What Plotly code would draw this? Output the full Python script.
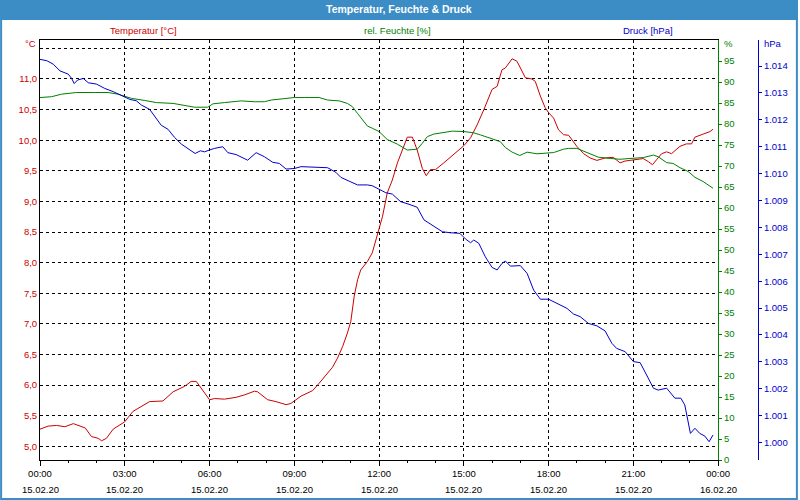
import pandas as pd
import plotly.graph_objects as go

# ---------------- data (hours after 15.02.20 00:00) ----------------
temp_hours = [0, 0.29, 0.59, 0.88, 1.18, 1.47, 1.6, 1.82, 2.06, 2.18, 2.35, 2.59, 3.0, 3.29, 3.59,
              3.88, 4.35, 4.71, 5.12, 5.35, 5.53, 5.76, 6.0, 6.18, 6.53, 6.94, 7.24, 7.59, 7.7,
              8.06, 8.35, 8.71, 8.88, 9.24, 9.65, 9.88, 10.12, 10.35, 10.53, 10.71, 10.88, 11.0,
              11.12, 11.24, 11.35, 11.59, 11.76, 11.88, 12.0, 12.12, 12.29, 12.47, 12.65, 12.82,
              13.0, 13.18, 13.35, 13.53, 13.67, 13.82, 14.0, 14.29, 14.71, 15.0, 15.24, 15.47,
              15.71, 16.0, 16.18, 16.35, 16.47, 16.71, 16.88, 17.18, 17.41, 17.53, 17.71, 17.88,
              18.0, 18.18, 18.35, 18.53, 18.71, 19.0, 19.24, 19.47, 19.71, 20.0, 20.29, 20.53,
              20.71, 21.0, 21.35, 21.53, 21.68, 21.82, 22.0, 22.18, 22.35, 22.65, 22.88, 23.06,
              23.18, 23.47, 23.71, 23.82]
temp_values = [5.28, 5.33, 5.34, 5.32, 5.37, 5.32, 5.30, 5.16, 5.13, 5.09, 5.13, 5.28, 5.40, 5.57,
               5.65, 5.73, 5.74, 5.89, 5.98, 6.06, 6.06, 5.92, 5.76, 5.78, 5.77, 5.80, 5.84, 5.90,
               5.89, 5.76, 5.73, 5.68, 5.70, 5.82, 5.91, 6.03, 6.17, 6.29, 6.44, 6.63, 6.85, 7.04,
               7.45, 7.72, 7.88, 8.02, 8.16, 8.37, 8.55, 8.75, 9.14, 9.35, 9.63, 9.84, 10.05, 10.05,
               9.84, 9.54, 9.42, 9.52, 9.52, 9.63, 9.79, 9.91, 10.04, 10.25, 10.50, 10.83, 10.88,
               11.15, 11.18, 11.33, 11.29, 11.02, 11.00, 10.96, 10.72, 10.53, 10.45, 10.36, 10.17,
               10.09, 10.08, 9.90, 9.78, 9.71, 9.67, 9.71, 9.72, 9.63, 9.66, 9.68, 9.70, 9.65,
               9.60, 9.68, 9.78, 9.81, 9.78, 9.90, 9.94, 9.94, 10.05, 10.10, 10.14, 10.18]

hum_hours = [0, 0.41, 0.76, 1.29, 1.94, 2.41, 2.76, 3.24, 3.71, 4.12, 4.71, 5.12, 5.47, 5.94,
             6.12, 6.53, 7.12, 7.59, 7.94, 8.18, 8.65, 9.0, 9.35, 9.88, 10.18, 10.59, 10.88,
             11.06, 11.24, 11.41, 11.59, 11.76, 12.0, 12.29, 12.65, 13.0, 13.35, 13.53, 13.71,
             13.94, 14.29, 14.59, 15.0, 15.35, 15.59, 15.88, 16.29, 16.47, 16.71, 16.98, 17.24,
             17.59, 17.94, 18.18, 18.53, 18.71, 19.0, 19.35, 19.76, 20.18, 20.53, 20.88, 21.35,
             21.59, 21.71, 21.88, 22.18, 22.41, 22.65, 22.94, 23.18, 23.47, 23.82]
hum_values = [86.3, 86.5, 87.1, 87.5, 87.5, 87.5, 87.1, 86.1, 85.6, 85.1, 84.9, 84.4, 84.0, 84.0,
              84.8, 85.1, 85.5, 85.3, 85.3, 85.7, 86.1, 86.3, 86.3, 86.3, 85.7, 85.5, 84.9,
              84.1, 82.5, 81.0, 79.5, 79.0, 78.2, 76.3, 75.2, 73.8, 74.0, 75.4, 77.0, 77.6, 77.9,
              78.3, 78.2, 77.9, 77.4, 76.8, 75.8, 74.4, 73.3, 72.5, 73.3, 72.9, 73.0, 73.2, 74.0,
              74.2, 74.2, 73.2, 72.1, 71.8, 71.6, 71.8, 72.0, 72.4, 72.6, 72.2, 70.8, 70.6, 69.6,
              68.7, 67.3, 66.3, 64.7]

pres_hours = [0, 0.24, 0.47, 0.71, 1.0, 1.12, 1.21, 1.33, 1.53, 1.71, 2.0, 2.29, 2.59, 2.88,
              3.18, 3.41, 3.59, 3.88, 4.06, 4.29, 4.53, 4.76, 5.0, 5.24, 5.49, 5.68, 5.82, 6.0,
              6.18, 6.47, 6.65, 6.94, 7.35, 7.65, 7.94, 8.24, 8.47, 8.71, 9.0, 9.24, 9.71, 10.18,
              10.47, 10.65, 10.94, 11.24, 11.59, 11.76, 12.0, 12.24, 12.47, 12.76, 13.06, 13.35,
              13.59, 13.94, 14.24, 14.53, 14.86, 15.06, 15.24, 15.35, 15.53, 15.76, 16.0, 16.18,
              16.35, 16.47, 16.65, 17.0, 17.24, 17.47, 17.71, 18.0, 18.29, 18.65, 18.88, 19.12,
              19.41, 19.71, 20.0, 20.24, 20.41, 20.71, 21.0, 21.24, 21.47, 21.71, 21.88, 22.18,
              22.47, 22.68, 22.82, 22.94, 23.02, 23.18, 23.35, 23.53, 23.68, 23.82]
pres_values = [1014.25, 1014.20, 1014.07, 1013.82, 1013.70, 1013.54, 1013.35, 1013.48, 1013.54,
               1013.38, 1013.33, 1013.17, 1013.05, 1012.92, 1012.76, 1012.71, 1012.55, 1012.39,
               1012.12, 1011.80, 1011.65, 1011.35, 1011.10, 1010.94, 1010.75, 1010.85, 1010.81,
               1010.88, 1010.94, 1011.00, 1010.78, 1010.71, 1010.50, 1010.78, 1010.63, 1010.42,
               1010.38, 1010.17, 1010.19, 1010.26, 1010.23, 1010.22, 1010.05, 1009.86, 1009.72,
               1009.58, 1009.58, 1009.55, 1009.42, 1009.29, 1009.24, 1008.96, 1008.86, 1008.75,
               1008.28, 1008.03, 1007.84, 1007.80, 1007.78, 1007.57, 1007.43, 1007.53, 1007.41,
               1006.91, 1006.51, 1006.42, 1006.66, 1006.75, 1006.56, 1006.58, 1006.29, 1005.67,
               1005.33, 1005.33, 1005.18, 1004.99, 1004.78, 1004.68, 1004.43, 1004.34, 1004.15,
               1003.69, 1003.50, 1003.38, 1003.01, 1002.97, 1002.51, 1002.02, 1001.95, 1002.02,
               1001.65, 1001.65, 1001.40, 1000.84, 1000.34, 1000.53, 1000.34, 1000.24, 1000.03,
               1000.28]

# tick labels
x_tick_hours = [0, 3, 6, 9, 12, 15, 18, 21, 24]
x_tick_times = ["00:00", "03:00", "06:00", "09:00", "12:00", "15:00", "18:00", "21:00", "00:00"]
x_tick_dates = ["15.02.20"] * 8 + ["16.02.20"]
temp_ticks = [5.0, 5.5, 6.0, 6.5, 7.0, 7.5, 8.0, 8.5, 9.0, 9.5, 10.0, 10.5, 11.0, 11.5]
temp_ticktext = ["5,0", "5,5", "6,0", "6,5", "7,0", "7,5", "8,0", "8,5", "9,0", "9,5",
                 "10,0", "10,5", "11,0", ""]
hum_ticks = list(range(0, 100, 5))
pres_ticks = list(range(1000, 1015))
pres_ticktext = ["1.%03d" % (v - 1000) for v in pres_ticks]

title_text = "Temperatur, Feuchte & Druck"
series_names = ["Temperatur [°C]", "rel. Feuchte [%]", "Druck [hPa]"]

# ---------------- figure ----------------
base = pd.Timestamp("2020-02-15 00:00")
def to_dt(hours):
    return [base + pd.Timedelta(hours=h) for h in hours]

RED = "#CC0000"
GREEN = "#008000"
BLUE = "#0000CC"
FONT = "Liberation Sans"
FS = 9.5

fig = go.Figure()
fig.add_trace(go.Scatter(x=to_dt(hum_hours), y=hum_values, mode="lines",
                         line=dict(color=GREEN, width=1), yaxis="y2", name=series_names[1]))
fig.add_trace(go.Scatter(x=to_dt(temp_hours), y=temp_values, mode="lines",
                         line=dict(color=RED, width=1), yaxis="y", name=series_names[0]))
fig.add_trace(go.Scatter(x=to_dt(pres_hours), y=pres_values, mode="lines",
                         line=dict(color=BLUE, width=1), yaxis="y3", name=series_names[2]))

x_ticks = to_dt(x_tick_hours)
minor_ticks = to_dt(list(range(0, 25)))

fig.update_layout(
    width=800, height=500,
    margin=dict(l=40, r=40, t=40, b=40),
    paper_bgcolor="white", plot_bgcolor="white",
    showlegend=False,
    font=dict(family=FONT, size=FS, color="black"),
    xaxis=dict(
        domain=[0, 680 / 720], type="date",
        range=[x_ticks[0], x_ticks[-1]],
        tickmode="array", tickvals=x_ticks, ticktext=x_tick_times,
        ticks="outside", ticklen=5, tickcolor="black", tickwidth=1,
        showline=True, linecolor="black", linewidth=1, mirror=True,
        showgrid=True, gridcolor="black", gridwidth=1, griddash="3px,3px",
        zeroline=False, tickfont=dict(color="black", size=FS),
        minor=dict(tickvals=minor_ticks, ticks="outside", ticklen=2,
                   tickcolor="black", showgrid=False),
    ),
    yaxis=dict(
        range=[4.776, 11.637],
        tickmode="array", tickvals=temp_ticks, ticktext=temp_ticktext,
        ticks="", showline=True, linecolor="black", linewidth=1,
        showgrid=True, gridcolor="black", gridwidth=1, griddash="3px,3px",
        zeroline=False, tickfont=dict(color=RED, size=FS),
    ),
    yaxis2=dict(
        overlaying="y", side="right", anchor="x",
        range=[0, 100],
        tickmode="array", tickvals=hum_ticks,
        ticks="outside", ticklen=3, tickcolor=GREEN,
        showline=True, linecolor=GREEN, linewidth=1,
        showgrid=False, zeroline=False, tickfont=dict(color=GREEN, size=FS),
    ),
    yaxis3=dict(
        overlaying="y", side="right", anchor="free", position=1.0,
        range=[999.35, 1014.97],
        tickmode="array", tickvals=pres_ticks, ticktext=pres_ticktext,
        ticks="outside", ticklen=3, tickcolor=BLUE,
        showline=True, linecolor=BLUE, linewidth=1,
        showgrid=False, zeroline=False, tickfont=dict(color=BLUE, size=FS),
    ),
)

def px_x(px):
    return (px - 40) / 720

def px_y(py):
    return (460 - py) / 420

shapes = [
    dict(type="rect", xref="paper", yref="paper", layer="below",
         x0=px_x(0), x1=px_x(800), y0=px_y(20), y1=px_y(0),
         fillcolor="#3C8DC6", line=dict(width=0)),
    dict(type="rect", xref="paper", yref="paper",
         x0=px_x(1), x1=px_x(799), y0=px_y(499), y1=px_y(0),
         fillcolor="rgba(0,0,0,0)", line=dict(color="#3C8DC6", width=2)),
]

annotations = [
    dict(text="<b>" + title_text + "</b>", x=px_x(400), y=px_y(9), xref="paper", yref="paper",
         showarrow=False, font=dict(color="white", size=10.5, family=FONT),
         xanchor="center", yanchor="middle"),
    dict(text=series_names[0], x=px_x(144), y=px_y(30), xref="paper", yref="paper",
         showarrow=False, font=dict(color=RED, size=FS), xanchor="center", yanchor="middle"),
    dict(text=series_names[1], x=px_x(398), y=px_y(30), xref="paper", yref="paper",
         showarrow=False, font=dict(color=GREEN, size=FS), xanchor="center", yanchor="middle"),
    dict(text=series_names[2], x=px_x(650), y=px_y(30), xref="paper", yref="paper",
         showarrow=False, font=dict(color=BLUE, size=FS), xanchor="center", yanchor="middle"),
    dict(text="°C", x=px_x(38), y=px_y(44), xref="paper", yref="paper",
         showarrow=False, font=dict(color=RED, size=FS), xanchor="right", yanchor="middle"),
    dict(text="%", x=px_x(724), y=px_y(44), xref="paper", yref="paper",
         showarrow=False, font=dict(color=GREEN, size=FS), xanchor="left", yanchor="middle"),
    dict(text="hPa", x=px_x(764), y=px_y(44), xref="paper", yref="paper",
         showarrow=False, font=dict(color=BLUE, size=FS), xanchor="left", yanchor="middle"),
]
for xv, d in zip(x_ticks, x_tick_dates):
    annotations.append(dict(text=d, x=xv, xref="x", y=px_y(489), yref="paper",
                            showarrow=False, font=dict(color="black", size=FS),
                            xanchor="center", yanchor="middle"))

fig.update_layout(shapes=shapes, annotations=annotations)
fig.write_html("out.html", config={"displayModeBar": False})
